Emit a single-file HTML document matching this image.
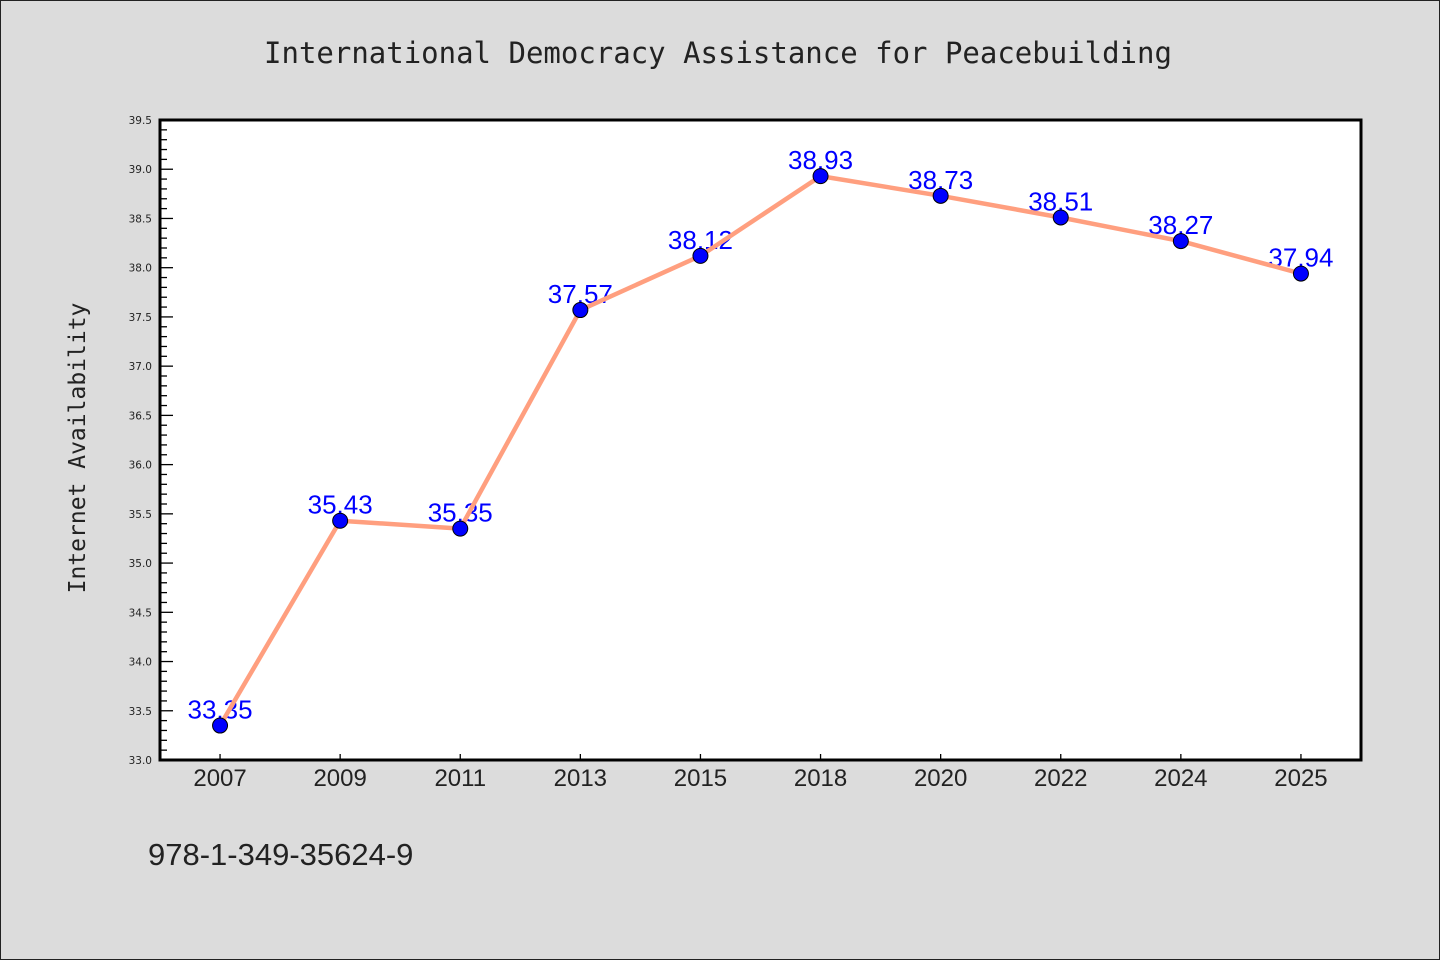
<!DOCTYPE html>
<html><head><meta charset="utf-8"><style>
html,body{margin:0;padding:0;background:#dcdcdc;}
svg{display:block;}
</style></head><body>
<svg id="chart" width="1440" height="960" xmlns="http://www.w3.org/2000/svg">
<rect x="0.5" y="0.5" width="1439" height="959" fill="#dcdcdc" stroke="#222" stroke-width="1"/>
<text x="718" y="63" text-anchor="middle" font-family="'DejaVu Sans Mono', monospace" font-size="29" fill="#222">International Democracy Assistance for Peacebuilding</text>
<rect x="160" y="120" width="1201" height="640" fill="#fff"/>
<g id="yaxis"></g>
<g id="xaxis"></g>
<g id="labels"></g>
<g id="series"></g>
<rect x="160" y="120" width="1201" height="640" fill="none" stroke="#000" stroke-width="3"/>
<text transform="translate(85,448) rotate(-90)" text-anchor="middle" font-family="'DejaVu Sans Mono', monospace" font-size="23" fill="#222">Internet Availability</text>
<text x="148" y="865" font-family="'Liberation Sans', sans-serif" font-size="31" fill="#222">978-1-349-35624-9</text>
</svg>
<script>
const categories = ["2007","2009","2011","2013","2015","2018","2020","2022","2024","2025"];
const values = [33.35,35.43,35.35,37.57,38.12,38.93,38.73,38.51,38.27,37.94];
const valueLabels = ["33.35","35.43","35.35","37.57","38.12","38.93","38.73","38.51","38.27","37.94"];
const yTicks = ["33.0","33.5","34.0","34.5","35.0","35.5","36.0","36.5","37.0","37.5","38.0","38.5","39.0","39.5"];
const yMin = 33.0, yMax = 39.5;
const L=160,R=1361,T=120,B=760;
const NS="http://www.w3.org/2000/svg";
function y(v){return B-(v-yMin)/(yMax-yMin)*(B-T);}
function x(i){const bw=(R-L)/categories.length;return L+bw*(i+0.5);}
function mk(tag,attrs,parent){const e=document.createElementNS(NS,tag);for(const k in attrs)e.setAttribute(k,attrs[k]);parent.appendChild(e);return e;}
const ya=document.getElementById('yaxis');
for(let v=yMin;v<=yMax+1e-9;v+=0.1){
  const yy=y(v);const major=Math.abs(Math.round(v*2)-v*2)<1e-6;
  const t=mk('line',{x1:L,x2:L+(major?13:7),y1:yy,y2:yy,stroke:'#000','stroke-width':1.3},ya);
  
  
}
yTicks.forEach(s=>{
  const t=mk('text',{x:152,y:y(parseFloat(s))+4,'text-anchor':'end','font-family':"'DejaVu Sans', sans-serif",'font-size':10.5,fill:'#222'},ya);
  t.textContent=s;
  
  
});
const xa=document.getElementById('xaxis');
categories.forEach((c,i)=>{
  const tk=mk('line',{x1:x(i),x2:x(i),y1:B,y2:B-6,stroke:'#000','stroke-width':1.3},xa);
  
  
  const t=mk('text',{x:x(i),y:B+26,'text-anchor':'middle','font-family':"'Liberation Sans', sans-serif",'font-size':24,fill:'#222'},xa);
  t.textContent=c;
  
  
});
const lg=document.getElementById('labels');
values.forEach((v,i)=>{
  const t=mk('text',{x:x(i),y:y(v)-7,'text-anchor':'middle','font-family':"'Liberation Sans', sans-serif",'font-size':26,fill:'#0000ff'},lg);
  t.textContent=valueLabels[i];
  
  
});
const sg=document.getElementById('series');
const pl=mk('polyline',{points:values.map((v,i)=>x(i)+','+y(v)).join(' '),fill:'none',stroke:'#ff9f7f','stroke-width':4.5,'stroke-linejoin':'round'},sg);


values.forEach((v,i)=>{
  const c=mk('circle',{cx:x(i),cy:y(v),r:7.5,fill:'#0000ff',stroke:'#000','stroke-width':1},sg);
  
  
});
</script>
</body></html>
